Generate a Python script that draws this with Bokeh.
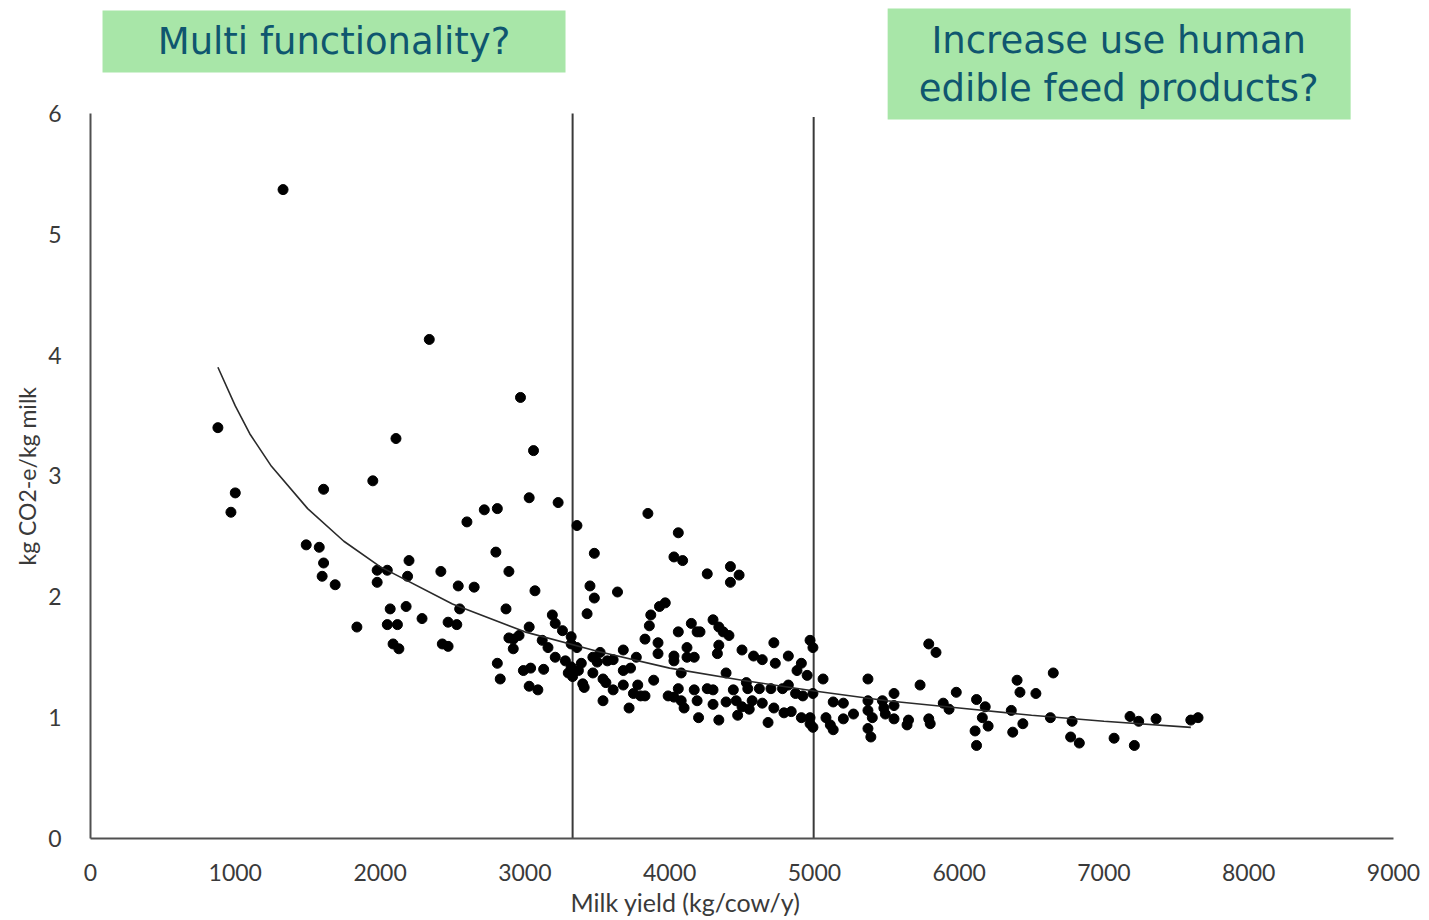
from bokeh.plotting import figure
from bokeh.models import Label, FixedTicker, Title
from bokeh.embed import file_html
from bokeh.resources import INLINE

# ---- data ----
milk_yield = [
    1330, 2340, 880, 1000, 970, 1610, 2110, 1950, 2970, 3060, 3030, 3230, 3360,
    1490, 1580, 1610, 1600, 1690, 1980, 2050, 2200, 2190, 1980, 2420, 2540, 2650,
    2550, 2070, 2180, 2290, 2470, 2530, 1840, 2050, 2120, 2090, 2130, 2430, 2470,
    2720, 2810, 2600, 2800, 2890, 3070, 2870, 3480, 3850, 4060, 4030, 4090, 3450,
    3480, 3640, 3930, 3970, 4260, 4420, 4480, 4420, 3430, 3190, 3210, 3260, 3320,
    3320, 3360, 3030, 2890, 2920, 2960, 2920, 3120, 3160, 2810, 2830, 2990, 3040,
    3130, 3030, 3090, 3210, 3280, 3320, 3300, 3330, 3370, 3390, 3400, 3410, 3470,
    3500, 3520, 3570, 3610, 3470, 3540, 3560, 3540, 3610, 3680, 3680, 3770, 3680,
    3730, 3780, 3750, 3800, 3830, 3720, 3890, 3870, 3860, 3830, 3920, 3920, 4030,
    4030, 4060, 4120, 4120, 4170, 4150, 4190, 4080, 3990, 4030, 4060, 4080, 4100,
    4170, 4190, 4200, 4300, 4340, 4370, 4410, 4210, 4340, 4330, 4500, 4720, 4580,
    4640, 4730, 4820, 4910, 4880, 4970, 4990, 4950, 5060, 5370, 5790, 5840, 5730,
    5980, 4390, 4260, 4300, 4440, 4530, 4540, 4620, 4700, 4780, 4820, 4870, 4920,
    4990, 4300, 4390, 4460, 4500, 4570, 4640, 4550, 4470, 4720, 4790, 4840, 4910,
    4970, 4340, 4680, 4970, 4990, 5080, 5110, 5130, 5200, 5130, 5200, 5270, 5370,
    5370, 5400, 5370, 5390, 5470, 5480, 5490, 5550, 5550, 5550, 5650, 5640, 5790,
    5800, 5890, 5930, 6120, 6180, 6160, 6200, 6110, 6120, 6360, 6440, 6370, 6400,
    6420, 6530, 6650, 6630, 6780, 6770, 6830, 7070, 7180, 7240, 7210, 7360, 7600,
    7650,
]
co2e = [
    5.37, 4.13, 3.40, 2.86, 2.70, 2.89, 3.31, 2.96, 3.65, 3.21, 2.82, 2.78, 2.59,
    2.43, 2.41, 2.28, 2.17, 2.10, 2.22, 2.22, 2.30, 2.17, 2.12, 2.21, 2.09, 2.08,
    1.90, 1.90, 1.92, 1.82, 1.79, 1.77, 1.75, 1.77, 1.77, 1.61, 1.57, 1.61, 1.59,
    2.72, 2.73, 2.62, 2.37, 2.21, 2.05, 1.90, 2.36, 2.69, 2.53, 2.33, 2.30, 2.09,
    1.99, 2.04, 1.92, 1.95, 2.19, 2.25, 2.18, 2.12, 1.86, 1.85, 1.78, 1.72, 1.67,
    1.61, 1.58, 1.75, 1.66, 1.65, 1.68, 1.57, 1.64, 1.58, 1.45, 1.32, 1.39, 1.41,
    1.40, 1.26, 1.23, 1.50, 1.47, 1.42, 1.37, 1.34, 1.39, 1.45, 1.28, 1.25, 1.50,
    1.46, 1.54, 1.47, 1.48, 1.37, 1.32, 1.29, 1.14, 1.23, 1.27, 1.56, 1.50, 1.39,
    1.41, 1.27, 1.20, 1.18, 1.18, 1.08, 1.31, 1.85, 1.76, 1.65, 1.62, 1.53, 1.51,
    1.47, 1.71, 1.58, 1.50, 1.50, 1.78, 1.71, 1.37, 1.18, 1.17, 1.24, 1.14, 1.08,
    1.23, 1.14, 1.00, 1.81, 1.75, 1.71, 1.68, 1.71, 1.60, 1.53, 1.56, 1.62, 1.51,
    1.48, 1.45, 1.51, 1.45, 1.39, 1.64, 1.58, 1.35, 1.32, 1.32, 1.61, 1.54, 1.27,
    1.21, 1.37, 1.24, 1.23, 1.23, 1.29, 1.24, 1.24, 1.24, 1.24, 1.27, 1.20, 1.18,
    1.20, 1.11, 1.13, 1.14, 1.09, 1.14, 1.12, 1.07, 1.02, 1.08, 1.04, 1.05, 1.00,
    1.00, 0.98, 0.96, 0.95, 0.92, 1.00, 0.94, 0.90, 0.99, 1.13, 1.12, 1.03, 1.14,
    1.06, 1.00, 0.91, 0.84, 1.14, 1.08, 1.03, 1.20, 1.10, 0.99, 0.98, 0.94, 0.99,
    0.95, 1.12, 1.07, 1.15, 1.09, 1.00, 0.93, 0.89, 0.77, 1.06, 0.95, 0.88, 1.31,
    1.21, 1.20, 1.37, 1.00, 0.97, 0.84, 0.79, 0.83, 1.01, 0.97, 0.77, 0.99, 0.98,
    1.00,
]
trend_x = [880, 1000, 1100, 1250, 1500, 1750, 2000, 2500, 3000, 3500, 4000,
           4500, 5000, 5500, 6000, 6500, 7000, 7600]
trend_y = [3.90, 3.58, 3.35, 3.08, 2.73, 2.46, 2.25, 1.94, 1.71, 1.55, 1.41,
           1.31, 1.22, 1.14, 1.08, 1.02, 0.97, 0.92]
divider_x = [3330, 4995]
divider_bottom = [0, 0]
divider_top = [6.0, 5.97]
x_ticks = [0, 1000, 2000, 3000, 4000, 5000, 6000, 7000, 8000, 9000]
y_ticks = [0, 1, 2, 3, 4, 5, 6]
box_lines = ["Multi functionality?", "Increase use human", "edible feed products?"]
x_title = "Milk yield (kg/cow/y)"
y_title = "kg CO2-e/kg milk"

# ---- layout constants for the two question boxes (annotation area above y=6) ----
Y_TOP = 6.935
box_left = [83, 5506]
box_right = [3281, 8704]
box_bottom = [6.339, 5.950]
box_top = [6.853, 6.869]
line_x = [1682, 7102, 7102]
line_y = [6.596, 6.604, 6.207]

# ---- figure ----
p = figure(width=1421, height=920, x_range=(0, 9000), y_range=(0, Y_TOP),
           output_backend="svg", toolbar_location=None,
           min_border_left=90, min_border_right=28,
           min_border_top=0, min_border_bottom=82)
p.grid.visible = False
p.outline_line_color = None
p.background_fill_color = "white"
p.border_fill_color = "white"

axis_col = "#505050"
label_col = "#3a3a3a"
for ax, ticks in ((p.xaxis, x_ticks), (p.yaxis, y_ticks)):
    ax.ticker = FixedTicker(ticks=ticks)
    ax.major_tick_line_color = None
    ax.minor_tick_line_color = None
    ax.axis_line_color = axis_col
    ax.axis_line_width = 2
    ax.major_label_text_font = "Lato"
    ax.major_label_text_font_size = "23px"
    ax.major_label_text_color = label_col
p.yaxis.bounds = (0, 6)
p.xaxis.major_label_standoff = 19
p.yaxis.major_label_standoff = 23

# axis titles as side titles so they can sit off-centre like the reference
p.add_layout(Title(text=y_title, align="left", offset=273, text_font="Lato",
                   text_font_style="normal", text_font_size="23px",
                   text_color=label_col), "left")
p.add_layout(Title(text=x_title, align="left", offset=480, standoff=2,
                   text_font="Lato", text_font_style="normal",
                   text_font_size="25px", text_color=label_col), "below")

# vertical dividers
p.segment(x0=divider_x, y0=divider_bottom, x1=divider_x, y1=divider_top,
          line_color="#3a3a3a", line_width=2)

# scatter
p.scatter(milk_yield, co2e, size=10, color="black", line_color="black")

# trend curve
p.line(trend_x, trend_y, line_color="#2a2a2a", line_width=1.6)

# green question boxes
p.quad(left=box_left, right=box_right, bottom=box_bottom, top=box_top,
       fill_color="#a8e6a8", line_color=None)
for t, x, y in zip(box_lines, line_x, line_y):
    p.add_layout(Label(x=x, y=y, text=t, text_align="center",
                       text_baseline="middle", text_font="DejaVu Sans",
                       text_font_size="37px", text_color="#0f566f"))

open("out.html", "w").write(file_html(p, INLINE))
